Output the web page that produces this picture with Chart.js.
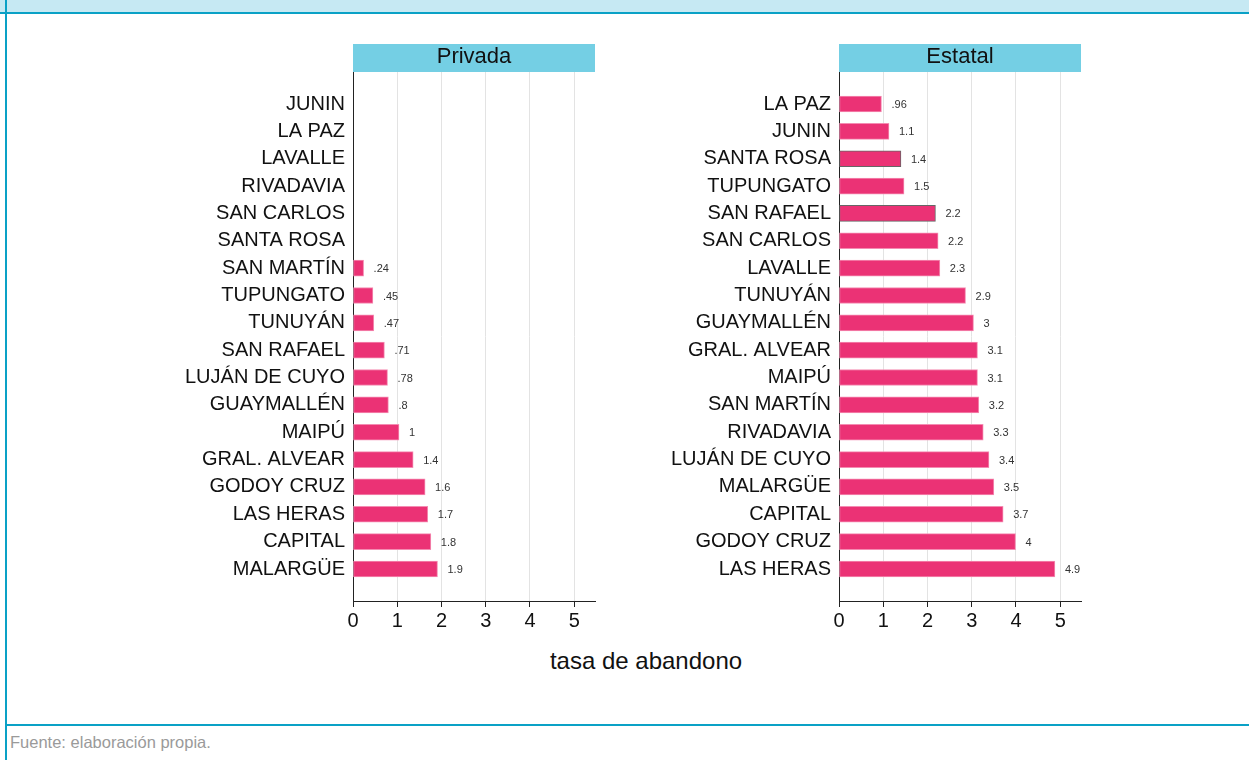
<!DOCTYPE html>
<html>
<head>
<meta charset="utf-8">
<script src="https://cdn.jsdelivr.net/npm/chart.js@4.4.1/dist/chart.umd.min.js"></script>
<style>
  body { margin: 0; background: #fff; font-family: "Liberation Sans", Arial, sans-serif; }
  #page { position: relative; width: 1249px; height: 760px; overflow: hidden; }
  #topband { position: absolute; left: 0; top: 0; width: 1249px; height: 12px; background: #c6e9f3; border-bottom: 2px solid #0aa1c6; }
  #leftline { position: absolute; left: 5px; top: 0; width: 2px; height: 760px; background: #0aa1c6; }
  #bottomline { position: absolute; left: 5px; top: 724px; width: 1244px; height: 2px; background: #0aa1c6; }
  #fuente { position: absolute; left: 10px; top: 733px; font-size: 16.5px; color: #9a9a9a; }
  #xtitle { position: absolute; left: 446px; width: 400px; top: 647px; text-align: center; font-size: 24px; color: #111; }
  canvas { position: absolute; }
</style>
</head>
<body>
<div id="page">
  <div id="topband"></div>
  <div id="leftline"></div>
  <div id="bottomline"></div>
  <div id="xtitle">tasa de abandono</div>
  <div id="fuente">Fuente: elaboración propia.</div>
  <canvas id="privada" style="left:0px; top:40px;" width="613" height="596"></canvas>
  <canvas id="estatal" style="left:620px; top:40px;" width="479" height="596"></canvas>
</div>
<script>
// departamentos y tasas, sector privado
var privadaDeptos = ['JUNIN', 'LA PAZ', 'LAVALLE', 'RIVADAVIA', 'SAN CARLOS', 'SANTA ROSA',
  'SAN MARTÍN', 'TUPUNGATO', 'TUNUYÁN', 'SAN RAFAEL', 'LUJÁN DE CUYO', 'GUAYMALLÉN',
  'MAIPÚ', 'GRAL. ALVEAR', 'GODOY CRUZ', 'LAS HERAS', 'CAPITAL', 'MALARGÜE'];
var privadaTasas = [null, null, null, null, null, null,
  0.24, 0.45, 0.47, 0.71, 0.78, 0.80, 1.04, 1.36, 1.63, 1.69, 1.76, 1.91];

// sector estatal
var estatalDeptos = ['LA PAZ', 'JUNIN', 'SANTA ROSA', 'TUPUNGATO', 'SAN RAFAEL', 'SAN CARLOS',
  'LAVALLE', 'TUNUYÁN', 'GUAYMALLÉN', 'GRAL. ALVEAR', 'MAIPÚ', 'SAN MARTÍN',
  'RIVADAVIA', 'LUJÁN DE CUYO', 'MALARGÜE', 'CAPITAL', 'GODOY CRUZ', 'LAS HERAS'];
var estatalTasas = [0.96, 1.13, 1.40, 1.47, 2.18, 2.24, 2.28, 2.86, 3.04, 3.13, 3.13,
  3.16, 3.26, 3.39, 3.50, 3.71, 3.99, 4.88];
// barras con borde gris en el original
var estatalBordeGris = ['SANTA ROSA', 'SAN RAFAEL'];

var xTicks = [0, 1, 2, 3, 4, 5];

var FONT = 'Liberation Sans';

// etiqueta estilo stata: .24, 1, 2.2
function fmt(v) {
  var s = String(Number(v.toPrecision(2)));
  return s.replace(/^0\./, '.');
}

var etiquetas = {
  id: 'etiquetas',
  afterDatasetsDraw(chart) {
    const ctx = chart.ctx;
    const meta = chart.getDatasetMeta(0);
    ctx.save();
    ctx.font = '11px "' + FONT + '"';
    ctx.fillStyle = '#333';
    ctx.textBaseline = 'middle';
    ctx.textAlign = 'left';
    meta.data.forEach((bar, i) => {
      const v = chart.data.datasets[0].data[i].x;
      ctx.fillText(fmt(v), bar.x + 10, bar.y + 1);
    });
    ctx.restore();
  }
};

var cabecera = {
  id: 'cabecera',
  beforeDraw(chart, args, opts) {
    const ctx = chart.ctx;
    const a = chart.chartArea;
    ctx.save();
    ctx.fillStyle = '#74cfe4';
    ctx.fillRect(a.left, a.top - 28, a.right - a.left, 28);
    ctx.fillStyle = '#111';
    ctx.font = '22px "' + FONT + '"';
    ctx.textAlign = 'center';
    ctx.textBaseline = 'middle';
    ctx.fillText(opts.text, (a.left + a.right) / 2, a.top - 15);
    ctx.restore();
  }
};

function makeChart(id, titulo, deptos, tasas, yWidth, bordeGris) {
  var puntos = [];
  var bordes = [];
  tasas.forEach((v, i) => {
    if (v === null) return;
    puntos.push({ x: v, y: i });
    bordes.push(bordeGris.indexOf(deptos[i]) >= 0 ? '#666' : '#f48cb2');
  });
  var n = deptos.length;
  return new Chart(document.getElementById(id), {
    type: 'bar',
    data: {
      datasets: [{
        data: puntos,
        backgroundColor: '#eb3275',
        borderColor: bordes,
        borderWidth: 1,
        borderSkipped: false,
        barThickness: 16
      }]
    },
    options: {
      indexAxis: 'y',
      responsive: false,
      animation: false,
      events: [],
      layout: { padding: { top: 32, right: 18, left: 0, bottom: 0 } },
      plugins: {
        legend: { display: false },
        tooltip: { enabled: false },
        cabecera: { text: titulo }
      },
      scales: {
        x: {
          type: 'linear',
          bounds: 'data',
          min: 0,
          max: 5.47,
          afterBuildTicks: s => { s.ticks = xTicks.map(v => ({ value: v })); },
          afterFit: s => { s.height = 35; },
          grid: { color: '#e3e3e3', tickColor: '#222', tickLength: 6, lineWidth: 1 },
          border: { color: '#222', width: 1 },
          ticks: { font: { family: FONT, size: 20 }, color: '#111', padding: 2 }
        },
        y: {
          type: 'linear',
          bounds: 'data',
          offset: false,
          reverse: true,
          min: -1.17,
          max: n - 1 + 1.17,
          afterBuildTicks: s => { s.ticks = deptos.map((d, i) => ({ value: i })); },
          afterFit: s => { s.width = yWidth; },
          grid: { color: 'transparent', drawTicks: false, offset: false },
          border: { color: '#222', width: 1 },
          ticks: {
            font: { family: FONT, size: 20 },
            color: '#111',
            padding: 8,
            autoSkip: false,
            callback: v => deptos[v]
          }
        }
      }
    },
    plugins: [cabecera, etiquetas]
  });
}

makeChart('privada', 'Privada', privadaDeptos, privadaTasas, 353, []);
makeChart('estatal', 'Estatal', estatalDeptos, estatalTasas, 219, estatalBordeGris);
</script>
</body>
</html>
